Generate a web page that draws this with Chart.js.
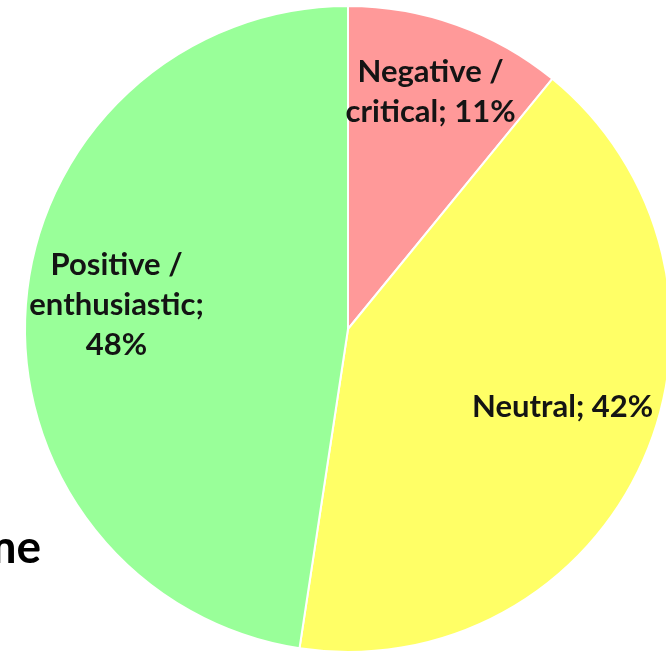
<!DOCTYPE html>
<html>
<head>
<meta charset="utf-8">
<script src="https://cdn.jsdelivr.net/npm/chart.js@4.4.1/dist/chart.umd.min.js"></script>
<style>
	html, body { margin: 0; padding: 0; background: #fff; overflow: hidden; }
	#wrap { position: absolute; left: 0; top: 0; width: 696px; height: 656px; }
</style>
</head>
<body>
<div id="wrap"><canvas id="pie"></canvas></div>
<script>
// slices, clockwise from 12 o'clock
const categorias = ["Negative / critical", "Neutral", "Positive / enthusiastic"];
const valores = [10.9, 41.5, 47.6];
const colores = ["#ff9999", "#ffff66", "#99ff99"];
// label lines as they wrap in the picture
const lineas = [["Negative /", "critical; "], ["Neutral; "], ["Positive /", "enthusiastic;", ""]];

// where each label sits: fraction of radius, small nudge in px
const posLabel = [
	{ f: 0.78, dx: -2, dy: 0 },
	{ f: 0.70, dx: 8, dy: -14 },
	{ f: 0.70, dx: -6, dy: -7 }
];

const fuente = "bold 31px Lato, 'Open Sans', sans-serif";

const etiquetas = {
	id: "etiquetas",
	afterDatasetsDraw(chart) {
		const ctx = chart.ctx;
		const meta = chart.getDatasetMeta(0);
		const total = valores.reduce((a, b) => a + b, 0);
		ctx.save();
		ctx.font = fuente;
		ctx.fillStyle = "#141414";
		ctx.textAlign = "center";
		ctx.textBaseline = "middle";
		meta.data.forEach((arc, i) => {
			const p = arc.getProps(["x", "y", "startAngle", "endAngle", "outerRadius"], true);
			const mid = (p.startAngle + p.endAngle) / 2;
			const r = p.outerRadius * posLabel[i].f;
			const cx = p.x + Math.cos(mid) * r + posLabel[i].dx;
			const cy = p.y + Math.sin(mid) * r + posLabel[i].dy;
			const pct = Math.round(valores[i] / total * 100) + "%";
			const ls = lineas[i].slice();
			ls[ls.length - 1] = ls[ls.length - 1] + pct;
			const lh = 40;
			const y0 = cy - (ls.length - 1) * lh / 2;
			ls.forEach((t, k) => ctx.fillText(t, cx, y0 + k * lh));
		});
		// bit of a cut-off word from the slide, left side
		ctx.font = "bold 46px Lato, 'Open Sans', sans-serif";
		ctx.fillStyle = "#000";
		ctx.textAlign = "right";
		ctx.textBaseline = "alphabetic";
		ctx.fillText("me", 41, 563);
		ctx.restore();
	}
};

const ctx = document.getElementById("pie");
new Chart(ctx, {
	type: "pie",
	data: {
		labels: categorias,
		datasets: [{
			data: valores,
			backgroundColor: colores,
			borderColor: "#ffffff",
			borderWidth: 2
		}]
	},
	options: {
		responsive: true,
		maintainAspectRatio: false,
		animation: false,
		layout: { padding: { top: 5, bottom: 3, left: 0, right: 0 } },
		plugins: {
			legend: { display: false },
			tooltip: { enabled: false }
		}
	},
	plugins: [etiquetas]
});
</script>
</body>
</html>
